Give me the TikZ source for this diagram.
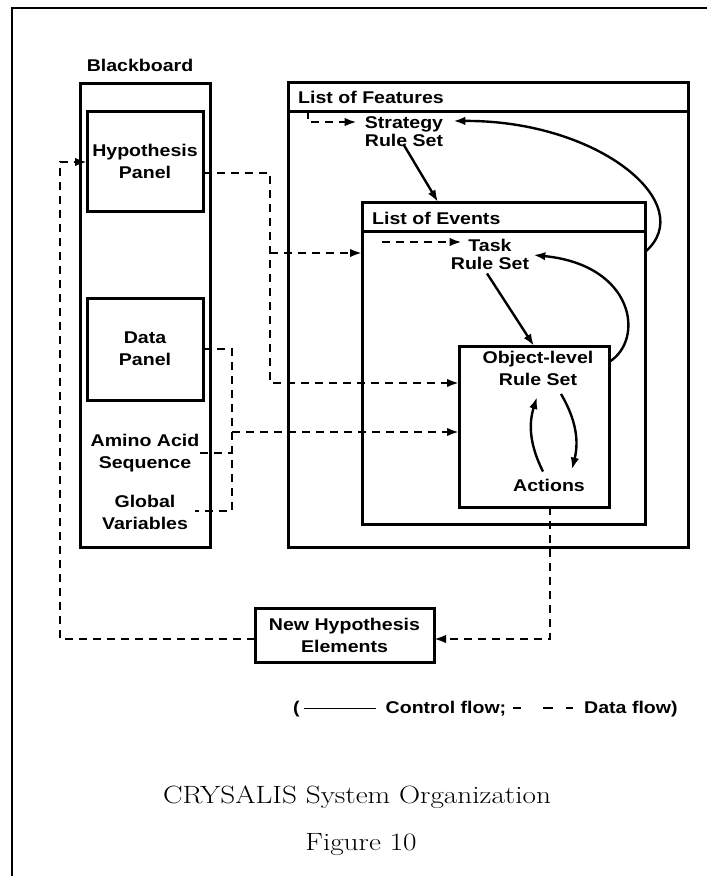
\documentclass[tikz,border=0pt]{standalone}
\usepackage{fontspec}
\usepackage{graphicx}
\setsansfont{Liberation Sans}[FakeStretch=1.15]
\usetikzlibrary{arrows.meta}
\begin{document}
\begin{tikzpicture}[x=1pt,y=-1pt,
  lbl/.style={font=\sffamily\bfseries\fontsize{17}{22}\selectfont, align=center, inner sep=0pt},
  lbltight/.style={font=\sffamily\bfseries\fontsize{17}{18}\selectfont, align=center, inner sep=0pt},
  box/.style={draw, line width=3pt, inner sep=0pt, outer sep=0pt},
  rulebar/.style={line width=3pt},
  frameline/.style={line width=2.2pt},
  data/.style={line width=2.8pt, dash pattern=on 8pt off 6pt},
  ctrl/.style={line width=2.4pt},
  tip/.style={-{Latex[length=12pt,width=8.5pt]}},
  captext/.style={font=\fontsize{25}{29}\selectfont, inner sep=0pt},
]
\useasboundingbox (0,0) rectangle (707,876);

% page frame
\draw[frameline] (12,876) -- (12,8) -- (707,8);

% blackboard
\node[lbl] (bbtitle) at (140,65) {Blackboard};
\node[box, minimum width=130pt, minimum height=464pt] (bb) at (145,315) {};
\node[box, lbl, minimum width=116pt, minimum height=100pt] (hp) at (145,161) {Hypothesis\\Panel};
\node[box, lbl, minimum width=116pt, minimum height=102pt] (dp) at (145,349) {Data\\Panel};
\node[lbl] (aas) at (145,453) {Amino Acid\\Sequence};
\node[lbl] (gv) at (145,512) {Global\\Variables};

% rule sets
\node[box, minimum width=400pt, minimum height=465pt] (feat) at (488,314.5) {};
\draw[rulebar] ([yshift=-29pt]feat.north west) -- ([yshift=-29pt]feat.north east);
\node[lbl, anchor=west] (feattitle) at (298,97) {List of Features};
\node[lbltight] (strat) at (404,132) {Strategy\\Rule Set};

\node[box, minimum width=283pt, minimum height=322pt] (ev) at (503.5,363) {};
\draw[rulebar] ([yshift=-29pt]ev.north west) -- ([yshift=-29pt]ev.north east);
\node[lbl, anchor=west] (evtitle) at (372,218) {List of Events};
\node[lbltight] (task) at (490,254) {Task\\Rule Set};

\node[box, minimum width=150pt, minimum height=161pt] (obj) at (534,426.5) {};
\node[lbl] (objrs) at (538,368.5) {Object-level\\Rule Set};
\node[lbl] (act) at (549,485) {Actions};

\node[box, lbl, minimum width=179pt, minimum height=54pt] (nh) at (344.5,635) {New Hypothesis\\Elements};

% legend and caption
\node[lbl, anchor=west] (legend) at (293,709) {(\hspace{4pt}\rule[4.5pt]{72pt}{1.4pt}\hspace{10pt}Control flow;\hspace{7pt}\rule[4.5pt]{8pt}{1.8pt}\hspace{22pt}\rule[4.5pt]{10pt}{1.8pt}\hspace{13pt}\rule[4.5pt]{7pt}{1.8pt}\hspace{11pt}Data flow)};
\node[captext] (cap1) at (357,797) {\scalebox{1.17}[1]{CRYSALIS System Organization}};
\node[captext] (cap2) at (361,845) {\scalebox{1.17}[1]{Figure 10}};

% control flow
\draw[ctrl, tip] ([yshift=2pt]strat.south) -- ([xshift=-65.5pt]ev.north);
\draw[ctrl, tip] ([xshift=-3pt,yshift=-4pt]task.south) -- (obj.north);
\draw[ctrl, tip] ([yshift=-50pt]ev.north east) .. controls (700,205) and (600,120) .. ([xshift=10pt,yshift=11pt]strat.east);
\draw[ctrl, tip] ([yshift=-16pt]obj.north east) .. controls (645,340) and (635,265) .. ([xshift=4pt,yshift=-1pt]task.east);
\draw[ctrl, tip] ([xshift=-6pt,yshift=7pt]act.north) to[bend left=22] ([xshift=-1pt,yshift=-11pt]objrs.south);
\draw[ctrl, tip] ([xshift=23pt,yshift=-8pt]objrs.south) to[bend left=22] ([xshift=23pt,yshift=9pt]act.north);

% data flow
\coordinate (sTick) at (308,111);
\coordinate (sTurn) at (308,122);
\draw[data, tip] (sTick) -- (sTurn) -- ([xshift=-8pt,yshift=10pt]strat.west);
\coordinate (tStart) at (382,242);
\draw[data, tip] (tStart) -- ([xshift=11pt,yshift=12pt]task.west);

\coordinate (hpJ) at (270,173);
\coordinate (evJ) at (270,253);
\coordinate (objJ) at (270,383);
\draw[data, tip] ([yshift=-12pt]hp.east) -- (hpJ) -- (objJ) -- (objJ -| obj.west);
\draw[data, tip] (evJ) -- (evJ -| ev.west);

\coordinate (dpTop) at (232,349);
\coordinate (aaJ) at (232,453);
\coordinate (dpBot) at (232,511);
\coordinate (dpOut) at (232,432);
\draw[data] (dp.east) -- (dpTop) -- (dpBot) -- ([xshift=7pt]gv.east |- dpBot);
\draw[data] (aas.east |- aaJ) -- (aaJ);
\draw[data, tip] (dpOut) -- (dpOut -| obj.west);

\coordinate (nhJ) at (550,639);
\draw[data, tip] (nhJ |- obj.south) -- (nhJ) -- (nhJ -| nh.east);
\coordinate (lJ) at (60,639);
\coordinate (lT) at (60,162);
\draw[data, tip] (lJ -| nh.west) -- (lJ) -- (lT) -- (lT -| hp.west);
\end{tikzpicture}
\end{document}
